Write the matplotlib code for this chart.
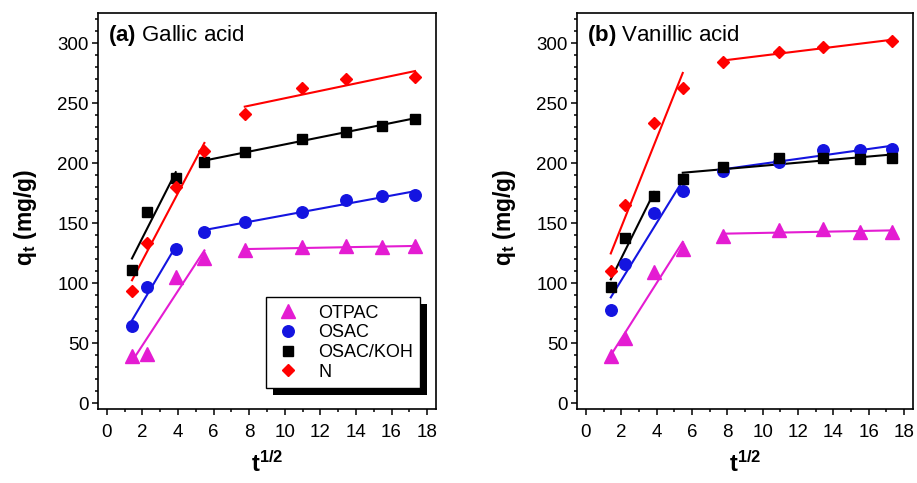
import numpy as np
import matplotlib
matplotlib.use('Agg')
import matplotlib.pyplot as plt
from matplotlib.patches import Rectangle
from matplotlib.ticker import MultipleLocator
from matplotlib.transforms import IdentityTransform

plt.rcParams['font.family'] = ['Liberation Sans', 'DejaVu Sans']
plt.rcParams['mathtext.fontset'] = 'custom'
plt.rcParams['mathtext.rm'] = 'Liberation Sans'
plt.rcParams['mathtext.it'] = 'Liberation Sans:italic'
plt.rcParams['mathtext.bf'] = 'Liberation Sans:bold'

# t^(1/2) values (same for every series)
t_sqrt = [1.41, 2.24, 3.87, 5.48, 7.75, 10.95, 13.42, 15.49, 17.32]

series_names = ['OTPAC', 'OSAC', 'OSAC/KOH', 'N']

# (a) Gallic acid
gallic_otpac = [39, 41, 105, 121, 127.5, 130, 130.5, 130, 130.5]
gallic_osac = [64, 97, 128, 142.5, 151, 159, 169, 172.5, 173.5]
gallic_koh = [111, 159, 187.5, 201, 209, 220, 226, 231, 237]
gallic_n = [93, 133, 180, 210, 241, 262.5, 270, np.nan, 271.5]

# (b) Vanillic acid
vanil_otpac = [39, 54, 109, 128, 139, 144, 145, 142.5, 142.5]
vanil_osac = [77.5, 115.5, 158, 177, 193, 201, 211, 211, 211.5]
vanil_koh = [96.5, 137.5, 172.5, 187, 197, 204, 204, 203, 204.5]
vanil_n = [110, 165, 233, 262.5, 284, 292.5, 297, np.nan, 301.5]

# index ranges used for the two linear fits of each series
gallic_segs = [[(0, 4), (4, 9)], [(0, 3), (3, 9)], [(0, 3), (3, 9)], [(0, 4), (4, 9)]]
vanil_segs = [[(0, 4), (4, 9)], [(0, 4), (4, 9)], [(0, 3), (3, 9)], [(0, 4), (4, 9)]]

colors = ['#E41CD2', '#1414E0', 'black', '#FF0000']
markers = ['^', 'o', 's', 'D']
msizes = [9.5, 8.3, 6.5, 6.5]

fig = plt.figure(figsize=(9.17, 4.83), dpi=100)
W, H = 917, 483
ax_a = fig.add_axes([98 / W, 1 - 409 / H, (436 - 98) / W, (409 - 13) / H])
ax_b = fig.add_axes([577 / W, 1 - 409 / H, (913 - 577) / W, (409 - 13) / H])


def draw_panel(ax, data, segs, title):
    x = np.array(t_sqrt)
    for k, y in enumerate(data):
        y = np.array(y, dtype=float)
        for (i0, i1) in segs[k]:
            xs = x[i0:i1]
            ys = y[i0:i1]
            ok = ~np.isnan(ys)
            p = np.polyfit(xs[ok], ys[ok], 1)
            xl = np.array([xs[ok][0], xs[ok][-1]])
            ax.plot(xl, np.polyval(p, xl), color=colors[k], lw=1.5, zorder=2)
        ax.plot(x, y, ls='none', marker=markers[k], ms=msizes[k],
                color=colors[k], mec=colors[k], label=series_names[k], zorder=3)

    ax.set_xlim(-0.5, 18.5)
    ax.set_ylim(-5, 325)
    ax.xaxis.set_major_locator(MultipleLocator(2))
    ax.xaxis.set_minor_locator(MultipleLocator(1))
    ax.yaxis.set_major_locator(MultipleLocator(50))
    ax.yaxis.set_minor_locator(MultipleLocator(10))
    ax.tick_params(which='both', direction='out', width=1.1, labelsize=13.5)
    ax.tick_params(which='major', length=4.5)
    ax.tick_params(which='minor', length=2.5)
    ax.tick_params(axis='x', pad=6)
    ax.tick_params(axis='y', pad=2)
    for s in ax.spines.values():
        s.set_linewidth(1.2)
    ax.set_xlabel(r'$\mathbf{t^{1/2}}$', fontsize=17)
    ax.xaxis.set_label_coords(0.5, -0.108)
    ax.set_ylabel(r'$\mathbf{q_t}$ (mg/g)', fontsize=16.5, fontweight='bold')
    ax.yaxis.set_label_coords(-0.175, 0.485)
    ax.text(0.03, 0.944, title, transform=ax.transAxes, fontsize=16,
            ha='left', va='center')


draw_panel(ax_a, [gallic_otpac, gallic_osac, gallic_koh, gallic_n],
           gallic_segs, r'$\mathbf{(a)}$ Gallic acid')
draw_panel(ax_b, [vanil_otpac, vanil_osac, vanil_koh, vanil_n],
           vanil_segs, r'$\mathbf{(b)}$ Vanillic acid')

leg = ax_a.legend(loc='lower left', bbox_to_anchor=(0.497, 0.053),
                  borderaxespad=0, fontsize=13, frameon=True, fancybox=False,
                  edgecolor='black', framealpha=1, handlelength=1.6,
                  handletextpad=0.9, labelspacing=0.15, borderpad=0.4)
leg.get_frame().set_linewidth(1.0)
leg.set_zorder(6)

# offset black shadow behind the legend box
fig.canvas.draw()
bb = leg.get_window_extent()
shadow = Rectangle((bb.x0 + 7, bb.y0 - 7), bb.width, bb.height,
                   transform=IdentityTransform(), facecolor='black',
                   edgecolor='none', zorder=5.5)
ax_a.add_artist(shadow)

fig.savefig('out.png', dpi=100)
